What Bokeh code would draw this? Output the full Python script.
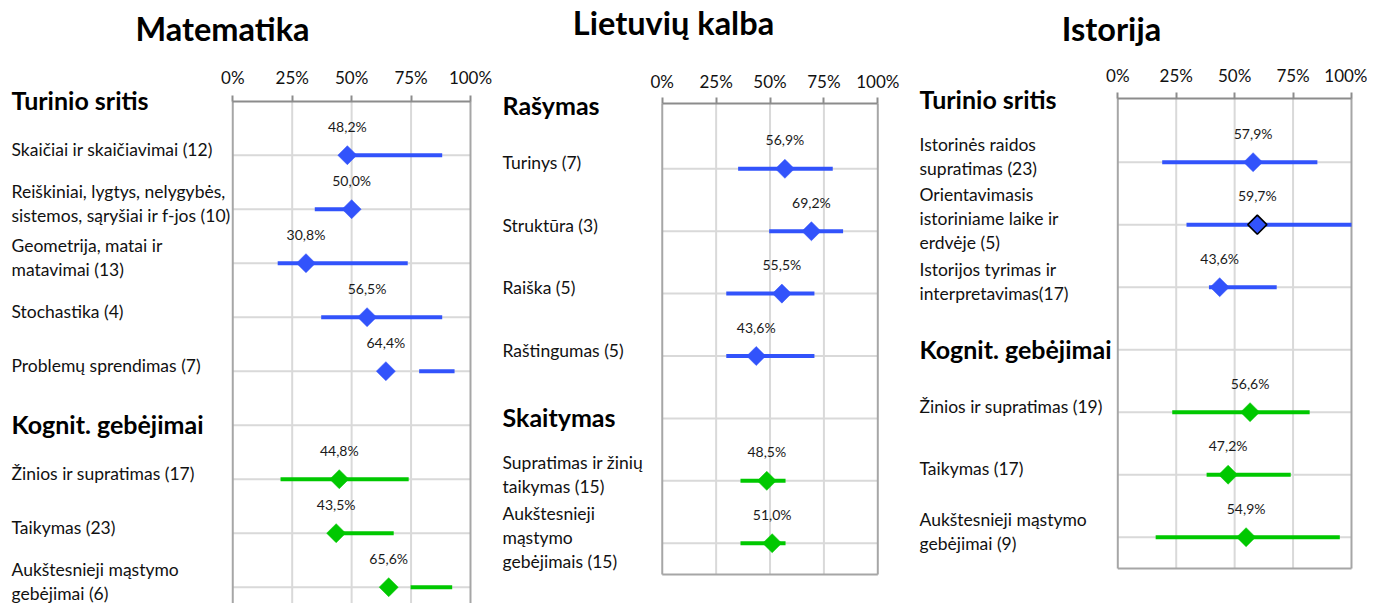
import numpy as np
from bokeh.plotting import figure
from bokeh.models import Range1d, LinearAxis, FixedTicker
from bokeh.layouts import row
from bokeh.core.properties import value
from bokeh.embed import file_html
from bokeh.resources import INLINE

FONT = "Lato"
BLUE = "#3253fb"
GREEN = "#00c800"

TICKS = [0, 25, 50, 75, 100]
TICK_LABELS = ["0%", "25%", "50%", "75%", "100%"]

# ---------------- Matematika ----------------
MAT_TITLE = "Matematika"
MAT_GROUPS = ["Turinio sritis", "Kognit. gebėjimai"]
MAT_ITEMS_A = ["Skaičiai ir skaičiavimai (12)",
               "Reiškiniai, lygtys, nelygybės,\nsistemos, sąryšiai ir f-jos (10)",
               "Geometrija, matai ir\nmatavimai (13)",
               "Stochastika (4)",
               "Problemų sprendimas (7)"]
MAT_MEAN_A = [48.2, 50.0, 30.8, 56.5, 64.4]
MAT_LO_A = [48.2, 34.5, 18.9, 37.2, 78.4]
MAT_HI_A = [88.1, 50.0, 73.6, 88.1, 93.3]
MAT_ITEMS_B = ["Žinios ir supratimas (17)", "Taikymas (23)",
               "Aukštesnieji mąstymo\ngebėjimai (6)"]
MAT_MEAN_B = [44.8, 43.5, 65.6]
MAT_LO_B = [20.1, 43.5, 74.8]
MAT_HI_B = [74.0, 67.7, 92.3]

# ---------------- Lietuvių kalba ----------------
LT_TITLE = "Lietuvių kalba"
LT_GROUPS = ["Rašymas", "Skaitymas"]
LT_ITEMS_A = ["Turinys (7)", "Struktūra (3)", "Raiška (5)", "Raštingumas (5)"]
LT_MEAN_A = [56.9, 69.2, 55.5, 43.6]
LT_LO_A = [35.2, 49.6, 29.7, 29.7]
LT_HI_A = [79.1, 83.9, 70.6, 70.6]
LT_ITEMS_B = ["Supratimas ir žinių\ntaikymas (15)",
              "Aukštesnieji\nmąstymo\ngebėjimais (15)"]
LT_MEAN_B = [48.5, 51.0]
LT_LO_B = [36.3, 36.3]
LT_HI_B = [57.2, 57.2]

# ---------------- Istorija ----------------
IS_TITLE = "Istorija"
IS_GROUPS = ["Turinio sritis", "Kognit. gebėjimai"]
IS_ITEMS_A = ["Istorinės raidos\nsupratimas (23)",
              "Orientavimasis\nistoriniame laike ir\nerdvėje (5)",
              "Istorijos tyrimas ir\ninterpretavimas(17)"]
IS_MEAN_A = [57.9, 59.7, 43.6]
IS_LO_A = [19.0, 29.4, 39.0]
IS_HI_A = [85.4, 100.0, 68.0]
IS_ITEMS_B = ["Žinios ir supratimas (19)", "Taikymas (17)",
              "Aukštesnieji mąstymo\ngebėjimai (9)"]
IS_MEAN_B = [56.6, 47.2, 54.9]
IS_LO_B = [23.3, 38.0, 16.2]
IS_HI_B = [82.1, 74.0, 95.0]
IS_HIGHLIGHT = "Orientavimasis\nistoriniame laike ir\nerdvėje (5)"


def pct(v):
    return f"{v:.1f}%".replace(".", ",")


def panel(title, groups, blocks, g):
    x0 = g["x_start"]
    p = figure(width=g["width"], height=603, output_backend="svg",
               toolbar_location=None, x_axis_location=None, y_axis_location=None,
               x_range=Range1d(x0, g["x_end"]), y_range=Range1d(g["y_bot"], g["y_top"]),
               min_border_left=0, min_border_right=0, min_border_top=0,
               min_border_bottom=0, outline_line_color=None)
    p.title = None
    p.xgrid.visible = False
    p.ygrid.visible = False

    head_rows, head_txt = [], []
    rows, names, means, los, his, cols = [], [], [], [], [], []
    r = 0
    for grp, (items, m, lo, hi, col) in zip(groups, blocks):
        head_rows.append(r)
        head_txt.append(grp)
        r += 1
        for it, mm, l, h in zip(items, m, lo, hi):
            rows.append(r); names.append(it); means.append(mm)
            los.append(l); his.append(h); cols.append(col)
            r += 1
    nrows = r - 1
    bottom_line = g["bottom_line"]
    y_low = bottom_line if bottom_line is not None else g["y_bot"]
    y_ax = g["axis_y"]

    # horizontal gridlines
    hy = list(range(1, nrows + 1))
    p.segment(x0=[0] * len(hy), x1=[100] * len(hy), y0=hy, y1=hy,
              line_color="#d9d9d9", line_width=2)
    # vertical gridlines + side borders
    inner = TICKS[1:-1]
    p.segment(x0=inner, x1=inner, y0=[y_ax] * len(inner), y1=[y_low] * len(inner),
              line_color="#d9d9d9", line_width=2)
    p.segment(x0=[0, 100], x1=[0, 100], y0=[y_ax] * 2, y1=[y_low] * 2,
              line_color="#a6a6a6", line_width=2)
    if bottom_line is not None:
        p.segment(x0=[0], x1=[100], y0=[bottom_line], y1=[bottom_line],
                  line_color="#a6a6a6", line_width=2)

    # range lines
    p.segment(x0=los, x1=his, y0=rows, y1=rows, line_color=cols, line_width=4)
    # diamonds
    hl = [n == g.get("highlight") for n in names]
    lc = ["black" if h else c for h, c in zip(hl, cols)]
    lw = [1.6 if h else 0.5 for h in hl]
    p.scatter(x=means, y=rows, marker="square", angle=np.pi / 4, size=13.5,
              fill_color=cols, line_color=lc, line_width=lw)
    # value labels
    p.text(x=means, y=rows, text=[pct(v) for v in means], y_offset=-29,
           text_align="center", text_baseline="middle", text_font=value(FONT),
           text_font_size="14px", text_color="#1a1a1a")
    # category labels
    p.text(x=[x0] * len(rows), y=rows, text=names, x_offset=g["lx"], y_offset=-6,
           text_align="left", text_baseline="middle", text_font=value(FONT),
           text_font_size="17.5px", text_color="#111111", text_line_height=1.14)
    p.text(x=[x0] * len(head_rows), y=head_rows, text=head_txt, x_offset=g["lx"],
           y_offset=-1, text_align="left", text_baseline="middle", text_font=value(FONT),
           text_font_size="25px", text_font_style="bold", text_color="black")
    # panel title
    p.text(x=[x0], y=[g["y_top"]], text=[title], x_offset=g["tx"], y_offset=g["ty"],
           text_align="center", text_baseline="middle", text_font=value(FONT),
           text_font_size="32.5px", text_font_style="bold", text_color="black")

    ax = LinearAxis(ticker=FixedTicker(ticks=TICKS), bounds=(0, 100))
    ax.fixed_location = y_ax
    ax.major_label_overrides = {t: s for t, s in zip(TICKS, TICK_LABELS)}
    ax.major_tick_out = 6
    ax.major_tick_in = 0
    ax.minor_tick_out = 0
    ax.axis_line_color = "#8c8c8c"
    ax.axis_line_width = 2
    ax.major_tick_line_color = "#8c8c8c"
    ax.major_tick_line_width = 2
    ax.major_label_text_font = FONT
    ax.major_label_text_font_size = "17px"
    ax.major_label_text_color = "#111111"
    ax.major_label_standoff = g["ls"]
    p.add_layout(ax, "above")
    return p


p1 = panel(MAT_TITLE, MAT_GROUPS,
           [(MAT_ITEMS_A, MAT_MEAN_A, MAT_LO_A, MAT_HI_A, BLUE),
            (MAT_ITEMS_B, MAT_MEAN_B, MAT_LO_B, MAT_HI_B, GREEN)],
           dict(width=496, x_start=-97.7, x_end=110.94, y_top=-1.8648, y_bot=9.302,
                axis_y=0.0, bottom_line=None, lx=11, tx=222, ty=28, ls=7))
p2 = panel(LT_TITLE, LT_GROUPS,
           [(LT_ITEMS_A, LT_MEAN_A, LT_LO_A, LT_HI_A, BLUE),
            (LT_ITEMS_B, LT_MEAN_B, LT_LO_B, LT_HI_B, GREEN)],
           dict(width=416, x_start=-76.9, x_end=116.1, y_top=-1.697, y_bot=7.966,
                axis_y=-0.0465, bottom_line=7.5, lx=6, tx=177, ty=22, ls=5))
p3 = panel(IS_TITLE, IS_GROUPS,
           [(IS_ITEMS_A, IS_MEAN_A, IS_LO_A, IS_HI_A, BLUE),
            (IS_ITEMS_B, IS_MEAN_B, IS_LO_B, IS_HI_B, GREEN)],
           dict(width=455, x_start=-87.85, x_end=106.85, y_top=-1.587, y_bot=8.061,
                axis_y=-0.024, bottom_line=7.5, lx=7, tx=199, ty=28, ls=6,
                highlight=IS_HIGHLIGHT))

layout = row(p1, p2, p3)
open("out.html", "w").write(file_html(layout, INLINE))
